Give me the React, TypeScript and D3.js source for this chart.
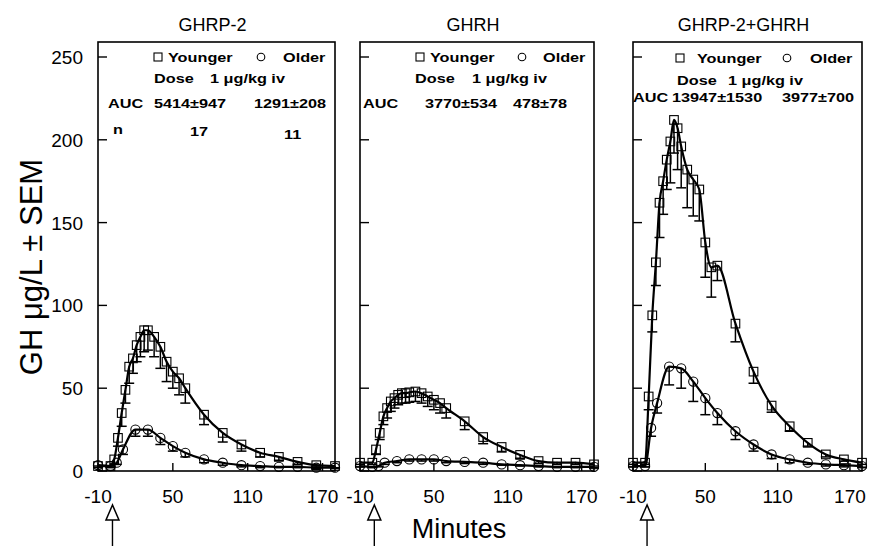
import React from "react";
import * as d3 from "d3";

// ---------- data ----------
const youngTimes = [-10, 0, 3, 6, 9, 12, 15, 18, 21, 24, 27, 30, 35, 40, 45, 50, 55, 60, 75, 90, 105, 120, 135, 150, 165, 180];
const oldTimes = [-10, 0, 5, 10, 20, 30, 40, 50, 60, 75, 90, 105, 120, 135, 150, 165, 180];

const panelTitles = ["GHRP-2", "GHRH", "GHRP-2+GHRH"];

const ghrp2Young = [3, 3, 7, 20, 35, 49, 63, 68, 76, 81, 85, 85, 81, 75, 66, 60, 56, 50, 34, 23, 16, 11, 8.5, 5.5, 3.5, 3];
const ghrp2YoungSem = [1, 1, 3, 5, 8, 8, 10, 9, 10, 12, 13, 12, 12, 13, 12, 10, 10, 9, 6, 5.5, 4, 2.5, 2, 1.5, 1, 1];
const ghrp2Old = [3.5, 3, 5, 13, 25, 25, 20, 15, 11, 7, 5, 3.5, 3, 2.5, 2.5, 2, 2];
const ghrp2OldSem = [0.5, 0.5, 1, 3, 4, 4, 4, 3, 2.5, 2, 1.5, 1, 1, 0.5, 0.5, 0.5, 0.5];

const ghrhYoung = [5, 5, 13, 23, 33, 38, 42, 44, 46, 47, 47, 47.5, 48, 47, 45, 43, 41, 38, 30, 20.5, 14.5, 9.7, 6, 5, 5, 4];
const ghrhYoungSem = [1, 1, 3, 4, 5, 6, 6, 6, 6, 6, 6, 6, 6, 6, 6, 6, 6, 6, 5, 4, 3, 2, 1.5, 1, 1, 1];
const ghrhOld = [3, 2.5, 3, 5, 6, 7, 7, 7, 6, 5.5, 5, 4, 3.5, 3, 2.5, 2.5, 2.5];
const ghrhOldSem = [0.5, 0.5, 0.5, 1, 1, 1, 1, 1, 1, 1, 1, 0.5, 0.5, 0.5, 0.5, 0.5, 0.5];

const comboYoung = [5, 5, 45, 94, 126, 162, 175, 188, 199, 212, 207, 196, 182, 176, 170, 138, 123, 124, 89, 60, 39.5, 27, 17, 10, 7, 5];
const comboYoungSem = [1, 1, 8, 10, 14, 21, 20, 18, 25, 20, 25, 25, 23, 22, 19, 21, 18, 9, 11, 7, 4, 3, 2, 1.5, 1, 1];
const comboOld = [3, 3, 26, 41, 63, 62, 54, 44, 35, 24, 16, 10, 7, 5, 4, 3.5, 3];
const comboOldSem = [0.5, 0.5, 5, 6, 11, 12, 12, 10, 7, 5, 4, 2.5, 2, 1, 1, 1, 1];

const aucYoung = ["5414±947", "3770±534", "13947±1530"];
const aucOld = ["1291±208", "478±78", "3977±700"];
const nYoung = "17";
const nOld = "11";

const xTicks = [-10, 50, 110, 170];
const yTicks = [0, 50, 100, 150, 200, 250];

// ---------- layout ----------
const W = 869;
const H = 546;
const TOP = 42;
const FONT = "'Liberation Sans', Arial, Helvetica, sans-serif";

const frames = [
  { x0: 98, x1: 335 },
  { x0: 360, x1: 594 },
  { x0: 633, x1: 862 },
];

const legendPos = [
  { sq: 154, younger: 168, circ: 261, older: 283, dose: 154, doseVal: 210, auc: 108, aucY: 154, aucO: 254, r1: 62, r2: 83, r3: 108 },
  { sq: 416, younger: 430, circ: 522, older: 543, dose: 415, doseVal: 472, auc: 363, aucY: 425, aucO: 513, r1: 62, r2: 83, r3: 108 },
  { sq: 676, younger: 697, circ: 787, older: 810, dose: 677, doseVal: 728, auc: 633, aucY: 672, aucO: 782, r1: 63, r2: 85, r3: 102 },
];

const series = [
  { young: ghrp2Young, youngSem: ghrp2YoungSem, old: ghrp2Old, oldSem: ghrp2OldSem },
  { young: ghrhYoung, youngSem: ghrhYoungSem, old: ghrhOld, oldSem: ghrhOldSem },
  { young: comboYoung, youngSem: comboYoungSem, old: comboOld, oldSem: comboOldSem },
];

const y = d3.scaleLinear().domain([0, 250]).range([471, 57]);

function WideText({ x, yy, children }: { x: number; yy: number; children: React.ReactNode }) {
  return (
    <text
      transform={`translate(${x},${yy}) scale(1.25,1)`}
      fontSize={13}
      fontWeight="bold"
      fontFamily={FONT}
      fill="#000"
    >
      {children}
    </text>
  );
}

function Panel({ i }: { i: number }) {
  const f = frames[i];
  const s = series[i];
  const lp = legendPos[i];
  const x = d3.scaleLinear().domain([-10, 180]).range([f.x0, f.x1]);
  const line = d3
    .line<[number, number]>()
    .x((d) => x(d[0]))
    .y((d) => y(d[1]))
    .curve(d3.curveMonotoneX);
  const youngPts: [number, number][] = youngTimes.map((t, k) => [t, s.young[k]]);
  const oldPts: [number, number][] = oldTimes.map((t, k) => [t, s.old[k]]);
  const y0 = y(0);
  const cap = 5;
  const arrowX = x(0) + 2;

  return (
    <g>
      <text x={(f.x0 + f.x1) / 2 - 4} y={31} textAnchor="middle" fontSize={18} fontFamily={FONT}>
        {panelTitles[i]}
      </text>
      <rect x={f.x0} y={TOP} width={f.x1 - f.x0} height={y0 - TOP} fill="none" stroke="#000" strokeWidth={1.6} />
      {yTicks.map((v) => (
        <line key={"yt" + v} x1={f.x0} x2={f.x0 + 9} y1={y(v)} y2={y(v)} stroke="#000" strokeWidth={1.4} />
      ))}
      {xTicks.map((t) => (
        <g key={"xt" + t}>
          <line x1={x(t)} x2={x(t)} y1={y0} y2={y0 - 8} stroke="#000" strokeWidth={1.4} />
          <text x={x(t)} y={503} textAnchor="middle" fontSize={19} fontFamily={FONT}>
            {t}
          </text>
        </g>
      ))}
      {i === 0 &&
        yTicks.map((v) => (
          <text key={"yl" + v} x={83} y={y(v) + 7} textAnchor="end" fontSize={19} fontFamily={FONT}>
            {v}
          </text>
        ))}
      <rect x={lp.sq} y={lp.r1 - 9} width={8} height={8} fill="none" stroke="#000" strokeWidth={1.1} />
      <WideText x={lp.younger} yy={lp.r1}>Younger</WideText>
      <circle cx={lp.circ} cy={lp.r1 - 5} r={3.8} fill="none" stroke="#000" strokeWidth={1.1} />
      <WideText x={lp.older} yy={lp.r1}>Older</WideText>
      <WideText x={lp.dose} yy={lp.r2}>Dose</WideText>
      <WideText x={lp.doseVal} yy={lp.r2}>1 μg/kg iv</WideText>
      <WideText x={lp.auc} yy={lp.r3}>AUC</WideText>
      <WideText x={lp.aucY} yy={lp.r3}>{aucYoung[i]}</WideText>
      <WideText x={lp.aucO} yy={lp.r3}>{aucOld[i]}</WideText>
      {i === 0 && (
        <g>
          <WideText x={113} yy={134}>n</WideText>
          <WideText x={190} yy={136}>{nYoung}</WideText>
          <WideText x={284} yy={139}>{nOld}</WideText>
        </g>
      )}
      <path d={line(youngPts) || ""} fill="none" stroke="#000" strokeWidth={2.2} />
      <path d={line(oldPts) || ""} fill="none" stroke="#000" strokeWidth={2.2} />
      {youngTimes.map((t, k) => (
        <g key={"ey" + k}>
          <line x1={x(t)} x2={x(t)} y1={y(s.young[k])} y2={y(s.young[k] - s.youngSem[k])} stroke="#000" strokeWidth={1.5} />
          <line x1={x(t) - cap} x2={x(t) + cap} y1={y(s.young[k] - s.youngSem[k])} y2={y(s.young[k] - s.youngSem[k])} stroke="#000" strokeWidth={1.5} />
        </g>
      ))}
      {oldTimes.map((t, k) => (
        <g key={"eo" + k}>
          <line x1={x(t)} x2={x(t)} y1={y(s.old[k])} y2={y(s.old[k] - s.oldSem[k])} stroke="#000" strokeWidth={1.5} />
          <line x1={x(t) - cap} x2={x(t) + cap} y1={y(s.old[k] - s.oldSem[k])} y2={y(s.old[k] - s.oldSem[k])} stroke="#000" strokeWidth={1.5} />
        </g>
      ))}
      {youngTimes.map((t, k) => (
        <rect key={"my" + k} x={x(t) - 4.3} y={y(s.young[k]) - 4.3} width={8.6} height={8.6} fill="none" stroke="#000" strokeWidth={1.1} />
      ))}
      {oldTimes.map((t, k) => (
        <circle key={"mo" + k} cx={x(t)} cy={y(s.old[k])} r={4.6} fill="none" stroke="#000" strokeWidth={1.1} />
      ))}
      <line x1={arrowX} x2={arrowX} y1={520} y2={H} stroke="#000" strokeWidth={1.4} />
      <path d={`M${arrowX},505 L${arrowX - 6.5},520 L${arrowX + 6.5},520 Z`} fill="#fff" stroke="#000" strokeWidth={1.5} />
    </g>
  );
}

export default function App() {
  return (
    <svg
      width={W}
      height={H}
      viewBox={`0 0 ${W} ${H}`}
      style={{ position: "absolute", left: 0, top: 0, background: "#fff" }}
    >
      <rect x={0} y={0} width={W} height={H} fill="#fff" />
      {[0, 1, 2].map((i) => (
        <Panel key={i} i={i} />
      ))}
      <text
        transform={`translate(42,267) rotate(-90)`}
        textAnchor="middle"
        fontSize={31}
        fontFamily={FONT}
      >
        GH μg/L ± SEM
      </text>
      <text x={459} y={538} textAnchor="middle" fontSize={27} fontFamily={FONT}>
        Minutes
      </text>
    </svg>
  );
}
